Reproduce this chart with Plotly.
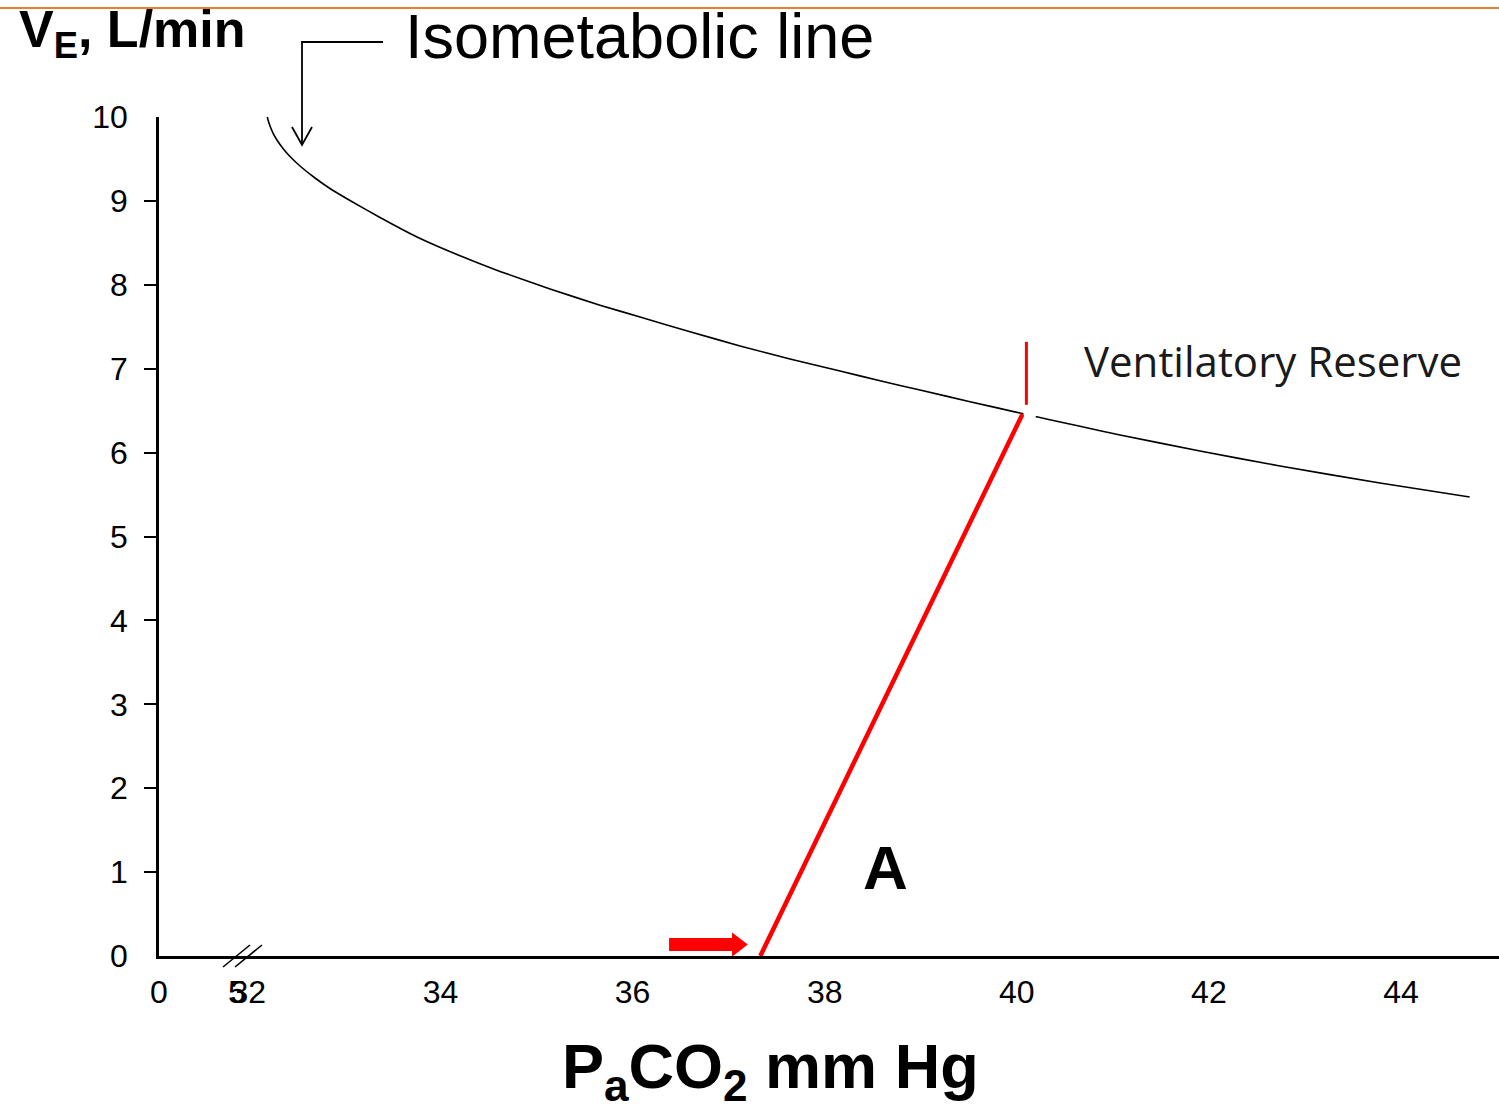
import plotly.graph_objects as go

# ---------------- data ----------------
iso_paco2 = [32.194, 32.205, 32.226, 32.257, 32.298, 32.361, 32.434, 32.538,
             32.694, 32.850, 33.058, 33.371, 33.756, 34.204, 34.620, 35.141,
             35.661, 36.078, 36.598, 37.119, 37.639, 38.160, 38.576, 38.992,
             39.513, 40.033, 40.658, 41.075, 41.907, 42.740, 43.781, 44.715]
iso_ve = [10.024, 9.964, 9.893, 9.809, 9.726, 9.625, 9.529, 9.416,
          9.273, 9.148, 9.005, 8.802, 8.570, 8.346, 8.160, 7.950,
          7.757, 7.616, 7.441, 7.271, 7.116, 6.973, 6.856, 6.746,
          6.607, 6.472, 6.313, 6.210, 6.019, 5.840, 5.638, 5.471]

resp_paco2 = [37.33, 40.06]
resp_ve = [0.0, 6.46]

reserve_paco2 = [40.10, 40.10]
reserve_ve = [6.57, 7.32]

point_paco2 = [40.14]
point_ve = [6.48]

arrow_paco2 = [36.38, 37.05]
arrow_ve = [0.137, 0.137]
arrow_head_paco2 = [37.09]

x_tickvals = [31.07, 31.88, 32, 34, 36, 38, 40, 42, 44]
x_ticktext = ["0", "5", "32", "34", "36", "38", "40", "42", "44"]
y_tickvals = [0, 1, 2, 3, 4, 5, 6, 7, 8, 9, 10]
y_minor = [1, 2, 3, 4, 5, 6, 7, 8, 9]

X_RANGE = [31.07, 45.02]
Y_RANGE = [0, 10]

# ---------------- layout geometry ----------------
W, H = 1499, 1109
ML, MR, MT, MB = 159, 0, 117, 153
PW, PH = W - ML - MR, H - MT - MB


def px(xp):
    return (xp - ML) / PW


def py(yp):
    return (H - MB - yp) / PH


fig = go.Figure()

fig.add_trace(go.Scatter(x=iso_paco2, y=iso_ve, mode="lines",
                         line=dict(color="black", width=1.6, shape="spline", smoothing=0.5),
                         hoverinfo="skip"))
fig.add_trace(go.Scatter(x=resp_paco2, y=resp_ve, mode="lines",
                         line=dict(color="#ff0000", width=4.5),
                         hoverinfo="skip"))
fig.add_trace(go.Scatter(x=reserve_paco2, y=reserve_ve, mode="lines",
                         line=dict(color="#ff0000", width=3),
                         hoverinfo="skip"))
fig.add_trace(go.Scatter(x=point_paco2, y=point_ve, mode="markers",
                         marker=dict(color="white", size=14, line=dict(width=0)),
                         cliponaxis=False, hoverinfo="skip"))
fig.add_trace(go.Scatter(x=arrow_paco2, y=arrow_ve, mode="lines",
                         line=dict(color="#ff0000", width=13),
                         hoverinfo="skip"))
fig.add_trace(go.Scatter(x=arrow_head_paco2, y=[arrow_ve[0]], mode="markers",
                         marker=dict(symbol="triangle-right", color="#ff0000", size=21,
                                     line=dict(width=0)),
                         cliponaxis=False, hoverinfo="skip"))

shapes = []
# orange rule at top
shapes.append(dict(type="line", xref="paper", yref="paper",
                   x0=px(0), x1=px(W), y0=py(8), y1=py(8),
                   line=dict(color="#ED7D31", width=2)))
# connector for isometabolic label
path = (f"M {px(383)},{py(42)} L {px(302)},{py(42)} L {px(302)},{py(145)} "
        f"M {px(292)},{py(127)} L {px(302)},{py(145)} L {px(312)},{py(127)}")
shapes.append(dict(type="path", xref="paper", yref="paper", path=path,
                   line=dict(color="black", width=1.8)))
# axis break marks
for dx in (0, 12):
    shapes.append(dict(type="line", xref="paper", yref="paper",
                       x0=px(223 + dx), y0=py(967), x1=px(250 + dx), y1=py(945),
                       line=dict(color="black", width=1.6)))

annotations = [
    dict(text="<b>V<sub>E</sub>, L/min</b>", xref="paper", yref="paper",
         x=px(17), y=py(33), xanchor="left", yanchor="middle", showarrow=False,
         font=dict(family="Liberation Sans, Arial", size=52, color="black")),
    dict(text="Isometabolic line", xref="paper", yref="paper",
         x=px(639), y=py(36), xanchor="center", yanchor="middle", showarrow=False,
         font=dict(family="Liberation Sans, Arial", size=63, color="black")),
    dict(text="Ventilatory Reserve", xref="paper", yref="paper",
         x=px(1273), y=py(360), xanchor="center", yanchor="middle", showarrow=False,
         font=dict(family="Open Sans", size=42, color="#1a1a1a")),
    dict(text="<b>A</b>", xref="paper", yref="paper",
         x=px(885), y=py(867), xanchor="center", yanchor="middle", showarrow=False,
         font=dict(family="Liberation Sans, Arial", size=62, color="black")),
    dict(text="<b>P<sub>a</sub>CO<sub>2</sub> mm Hg</b>", xref="paper", yref="paper",
         x=px(770), y=py(1070), xanchor="center", yanchor="middle", showarrow=False,
         font=dict(family="Liberation Sans, Arial", size=63, color="black")),
]

fig.update_layout(
    width=W, height=H,
    margin=dict(l=ML, r=MR, t=MT, b=MB, pad=0),
    paper_bgcolor="white", plot_bgcolor="white",
    showlegend=False,
    shapes=shapes,
    annotations=annotations,
    xaxis=dict(range=X_RANGE, showgrid=False, zeroline=False,
               showline=True, linecolor="black", linewidth=2.5,
               tickmode="array", tickvals=x_tickvals, ticktext=x_ticktext,
               tickangle=0, ticks="", ticklabelstandoff=6,
               tickfont=dict(family="Liberation Sans, Arial", size=32, color="black")),
    yaxis=dict(range=Y_RANGE, showgrid=False, zeroline=False,
               showline=True, linecolor="black", linewidth=2.5,
               tickmode="array", tickvals=y_tickvals, ticks="",
               ticklabelstandoff=22,
               tickfont=dict(family="Liberation Sans, Arial", size=32, color="black"),
               minor=dict(tickmode="array", tickvals=y_minor, ticks="outside",
                          ticklen=12, tickwidth=2, tickcolor="black", showgrid=False)),
)

fig.write_html("out.html")
